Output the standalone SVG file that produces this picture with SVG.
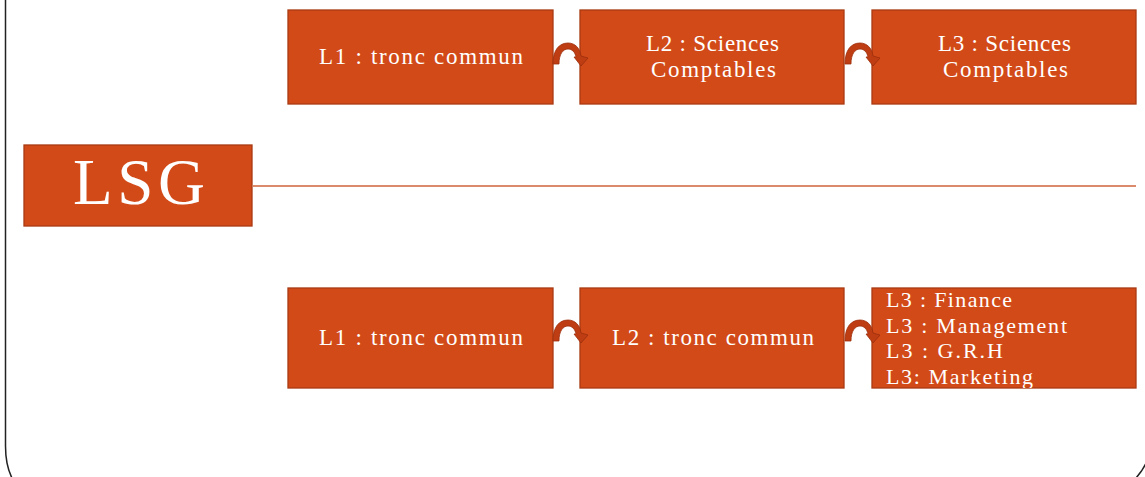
<svg xmlns="http://www.w3.org/2000/svg" width="1145" height="477" viewBox="0 0 1145 477">
<style>
.box{fill:#d24a18;stroke:#a93a12;stroke-width:1.3}
.t{fill:#ffffff;font-family:"Liberation Serif","Times New Roman",serif;font-size:23px}
.t3{fill:#ffffff;font-family:"Liberation Serif","Times New Roman",serif;font-size:22px}
.arr{fill:#bf3d12;stroke:#9c2f0c;stroke-width:0.8}
.frame{fill:none;stroke:#222222;stroke-width:1.5}
</style>
<defs>
<path id="carrow" d="M0,21 C0,7 6,0 15,0 C22,0 27,5 28,13 L35,15 L28,23 L21,14 L23,14 C22,9 19,6 15,6 C10,6 6,11 6,21 Z"/>
<clipPath id="clip3"><rect x="872" y="288" width="264" height="100"/></clipPath>
</defs>
<path class="frame" d="M5.5,-2 V446 C5.5,460 8,471 13,480"/>
<path class="frame" d="M1146.5,-2 V462 C1144,468 1140,474 1134,480"/>
<line x1="253" y1="186" x2="1136" y2="186" stroke="#dc8a6c" stroke-width="2"/>
<g id="lsg">
<rect class="box" x="24" y="145" width="228" height="81"/>
<text x="73" y="204" fill="#ffffff" font-family="'Liberation Serif','Times New Roman',serif" font-size="65" textLength="132" lengthAdjust="spacing">LSG</text>
</g>
<g id="top1">
<rect class="box" x="288" y="10" width="265" height="94"/>
<text class="t" x="319" y="64" textLength="204" lengthAdjust="spacing">L1 : tronc commun</text>
</g>
<g id="top2">
<rect class="box" x="580" y="10" width="264" height="94"/>
<text class="t" x="646" y="51" textLength="133" lengthAdjust="spacing">L2 : Sciences</text>
<text class="t" x="651" y="77" textLength="125" lengthAdjust="spacing">Comptables</text>
</g>
<g id="top3">
<rect class="box" x="872" y="10" width="264" height="94"/>
<text class="t" x="938" y="51" textLength="133" lengthAdjust="spacing">L3 : Sciences</text>
<text class="t" x="943" y="77" textLength="125" lengthAdjust="spacing">Comptables</text>
</g>
<g id="bot1">
<rect class="box" x="288" y="288" width="265" height="100"/>
<text class="t" x="319" y="345" textLength="204" lengthAdjust="spacing">L1 : tronc commun</text>
</g>
<g id="bot2">
<rect class="box" x="580" y="288" width="264" height="100"/>
<text class="t" x="612" y="345" textLength="202" lengthAdjust="spacing">L2 : tronc commun</text>
</g>
<g id="bot3">
<rect class="box" x="872" y="288" width="264" height="100"/>
<g clip-path="url(#clip3)">
<text class="t3" x="886" y="307" textLength="126" lengthAdjust="spacing">L3 : Finance</text>
<text class="t3" x="886" y="333" textLength="181" lengthAdjust="spacing">L3 : Management</text>
<text class="t3" x="886" y="358" textLength="117" lengthAdjust="spacing">L3 : G.R.H</text>
<text class="t3" x="886" y="384" textLength="147" lengthAdjust="spacing">L3: Marketing</text>
</g>
</g>
<g id="connectors">
<use href="#carrow" class="arr" transform="translate(553,43)"/>
<use href="#carrow" class="arr" transform="translate(845,43)"/>
<use href="#carrow" class="arr" transform="translate(553,320)"/>
<use href="#carrow" class="arr" transform="translate(845,320)"/>
</g>
</svg>
